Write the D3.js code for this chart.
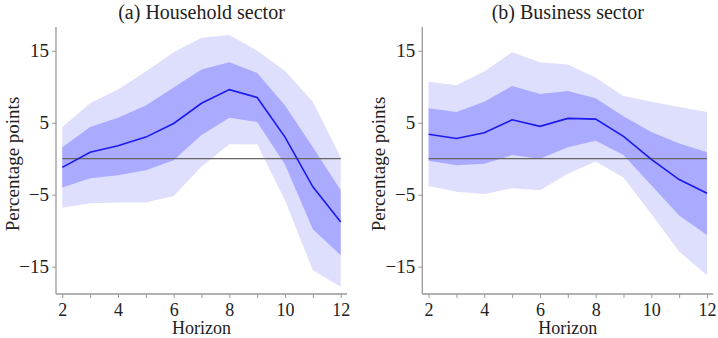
<!DOCTYPE html>
<html>
<head>
<meta charset="utf-8">
<script src="https://cdn.jsdelivr.net/npm/d3@7"></script>
<style>
  body { margin: 0; background: #fff; }
  text { font-family: "Liberation Serif", "DejaVu Serif", serif; fill: #222; }
</style>
</head>
<body>
<svg id="canvas" width="718" height="338"></svg>
<script>
// horizons shared by both panels
var horizon = [2, 3, 4, 5, 6, 7, 8, 9, 10, 11, 12]
var xTicks = [2, 4, 6, 8, 10, 12]
var yTicks = [-15, -5, 5, 15]

// (a) household sector
var hhMean = [-1.2, 0.9, 1.8, 3.0, 4.9, 7.7, 9.6, 8.5, 3.0, -3.9, -8.8]
var hhInnerLo = [-4.0, -2.7, -2.3, -1.6, -0.2, 3.3, 5.7, 5.1, -0.8, -9.8, -13.4]
var hhInnerHi = [1.6, 4.4, 5.7, 7.4, 9.9, 12.4, 13.4, 11.9, 7.4, 1.6, -4.4]
var hhOuterLo = [-6.8, -6.2, -6.1, -6.1, -5.2, -1.1, 2.0, 2.0, -5.8, -15.5, -17.8]
var hhOuterHi = [4.4, 7.7, 9.6, 12.1, 14.8, 16.8, 17.2, 15.0, 12.2, 7.9, 0.2]

// (b) business sector
var bsMean = [3.4, 2.8, 3.6, 5.4, 4.5, 5.6, 5.5, 3.1, -0.1, -2.9, -4.8]
var bsInnerLo = [-0.3, -0.9, -0.7, 0.5, 0.0, 1.6, 2.5, 0.5, -3.7, -7.9, -10.6]
var bsInnerHi = [7.0, 6.5, 7.9, 10.1, 9.0, 9.4, 8.4, 5.9, 3.7, 2.1, 0.9]
var bsOuterLo = [-3.8, -4.6, -4.9, -4.1, -4.4, -2.1, -0.4, -2.6, -7.7, -12.9, -16.2]
var bsOuterHi = [10.7, 10.2, 12.1, 14.8, 13.4, 13.1, 11.3, 8.7, 7.9, 7.2, 6.5]

var panels = [
  { title: '(a) Household sector', left: 56, mean: hhMean, innerLo: hhInnerLo, innerHi: hhInnerHi, outerLo: hhOuterLo, outerHi: hhOuterHi },
  { title: '(b) Business sector', left: 422.3, mean: bsMean, innerLo: bsInnerLo, innerHi: bsInnerHi, outerLo: bsOuterLo, outerHi: bsOuterHi }
]

var plotW = 291
var plotTop = 27
var plotBottom = 294
var svg = d3.select('#canvas')

function drawPanel (p) {
  var x = d3.scaleLinear().domain([1.774, 12.226]).range([p.left, p.left + plotW])
  var y = d3.scaleLinear().domain([-18.8, 18.3]).range([plotBottom, plotTop])
  var g = svg.append('g')

  function band (lo, hi, color) {
    var area = d3.area()
      .x(function (d, i) { return x(horizon[i]) })
      .y0(function (d, i) { return y(lo[i]) })
      .y1(function (d, i) { return y(hi[i]) })
    g.append('path').attr('d', area(horizon)).attr('fill', color)
  }
  band(p.outerLo, p.outerHi, '#dedefd')
  band(p.innerLo, p.innerHi, '#aaaaff')

  // zero reference line
  g.append('line')
    .attr('x1', x(2)).attr('x2', x(12))
    .attr('y1', y(0)).attr('y2', y(0))
    .attr('stroke', '#666').attr('stroke-width', 1.2)

  var line = d3.line()
    .x(function (d, i) { return x(horizon[i]) })
    .y(function (d) { return y(d) })
  g.append('path').attr('d', line(p.mean))
    .attr('fill', 'none').attr('stroke', '#1a1aee').attr('stroke-width', 1.6)

  // axes
  var yAxis = g.append('g').attr('transform', 'translate(' + p.left + ',0)')
    .call(d3.axisLeft(y).tickValues(yTicks).tickSize(4).tickPadding(3).tickFormat(d3.format('d')))
  var xAxis = g.append('g').attr('transform', 'translate(0,' + plotBottom + ')')
    .call(d3.axisBottom(x).tickValues(horizon).tickSize(4).tickPadding(5)
      .tickFormat(function (d) { return xTicks.indexOf(d) >= 0 ? d : '' }))
  ;[yAxis, xAxis].forEach(function (a) {
    a.select('.domain').attr('stroke', '#999').attr('stroke-width', 1.3)
    a.selectAll('.tick line').attr('stroke', '#999')
    a.selectAll('text').attr('font-size', 19).attr('fill', '#222')
      .style('font-family', '"Liberation Serif", serif')
  })
  xAxis.selectAll('text').attr('font-size', 18)
  yAxis.select('.domain').attr('d', 'M0,' + plotTop + 'V' + plotBottom)
  xAxis.select('.domain').attr('d', 'M' + p.left + ',0H' + (p.left + plotW))

  g.append('text').attr('x', p.left + plotW / 2).attr('y', 19)
    .attr('text-anchor', 'middle').attr('font-size', 20).text(p.title)
  g.append('text').attr('x', p.left + plotW / 2).attr('y', 334)
    .attr('text-anchor', 'middle').attr('font-size', 18).text('Horizon')
  g.append('text')
    .attr('transform', 'translate(' + (p.left - 37) + ',164) rotate(-90)')
    .attr('text-anchor', 'middle').attr('font-size', 19).text('Percentage points')
}

panels.forEach(drawPanel)
</script>
</body>
</html>
